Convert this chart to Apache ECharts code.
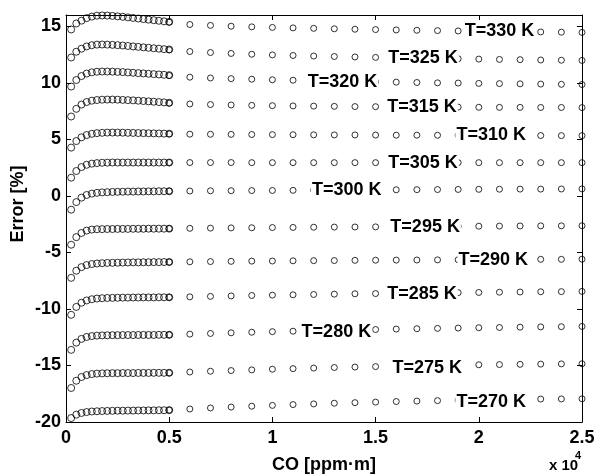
<!DOCTYPE html>
<html>
<head>
<meta charset="utf-8">
<script src="https://cdn.jsdelivr.net/npm/echarts@6/dist/echarts.min.js"></script>
<style>
  html, body { margin: 0; padding: 0; background: #fff; }
  #chart { width: 595px; height: 474px; }
</style>
</head>
<body>
<div id="chart"></div>
<script>
// CO column (ppm·m): fine sampling at low concentration, coarse sampling above
const denseCO = [250, 500, 750, 1000, 1250, 1500, 1750, 2000, 2250, 2500,
                 2750, 3000, 3250, 3500, 3750, 4000, 4250, 4500, 4750, 5000];
const sparseCO = [5000, 6000, 7000, 8000, 9000, 10000, 11000, 12000, 13000, 14000,
                  15000, 16000, 17000, 18000, 19000, 20000, 21000, 22000, 23000, 24000, 25000];

const temps = [330, 325, 320, 315, 310, 305, 300, 295, 290, 285, 280, 275, 270];

// Retrieval error [%] per temperature, fine-sampled range
const dense330 = [14.72, 15.25, 15.50, 15.72, 15.86, 15.94, 15.96, 15.95, 15.92, 15.88, 15.84, 15.79, 15.74, 15.69, 15.64, 15.59, 15.54, 15.49, 15.44, 15.40];
const dense325 = [12.24, 12.75, 13.02, 13.22, 13.33, 13.38, 13.39, 13.38, 13.36, 13.33, 13.30, 13.26, 13.22, 13.18, 13.14, 13.10, 13.06, 13.02, 12.98, 12.95];
const dense320 = [9.67, 10.25, 10.60, 10.82, 10.93, 10.98, 11.00, 11.00, 10.99, 10.97, 10.95, 10.92, 10.89, 10.86, 10.83, 10.80, 10.77, 10.74, 10.71, 10.68];
const dense315 = [7.02, 7.70, 8.08, 8.30, 8.42, 8.48, 8.51, 8.52, 8.52, 8.51, 8.49, 8.47, 8.45, 8.42, 8.39, 8.36, 8.33, 8.30, 8.27, 8.24];
const dense310 = [4.27, 4.85, 5.18, 5.38, 5.49, 5.55, 5.58, 5.60, 5.60, 5.60, 5.59, 5.58, 5.57, 5.56, 5.55, 5.54, 5.53, 5.52, 5.51, 5.50];
const dense305 = [1.61, 2.20, 2.55, 2.75, 2.85, 2.90, 2.93, 2.94, 2.95, 2.95, 2.95, 2.95, 2.95, 2.95, 2.95, 2.95, 2.95, 2.95, 2.95, 2.95];
const dense300 = [-1.22, -0.55, -0.15, 0.08, 0.20, 0.27, 0.31, 0.33, 0.35, 0.36, 0.37, 0.38, 0.38, 0.39, 0.39, 0.40, 0.40, 0.41, 0.41, 0.41];
const dense295 = [-4.32, -3.65, -3.28, -3.07, -2.98, -2.95, -2.94, -2.93, -2.93, -2.92, -2.92, -2.92, -2.91, -2.91, -2.91, -2.90, -2.90, -2.90, -2.90, -2.90];
const dense290 = [-7.25, -6.62, -6.30, -6.12, -6.03, -5.98, -5.95, -5.93, -5.92, -5.91, -5.90, -5.89, -5.88, -5.88, -5.87, -5.87, -5.86, -5.86, -5.85, -5.85];
const dense285 = [-10.52, -9.82, -9.45, -9.25, -9.14, -9.08, -9.05, -9.03, -9.02, -9.01, -9.00, -9.00, -8.99, -8.99, -8.98, -8.98, -8.98, -8.97, -8.97, -8.97];
const dense280 = [-13.62, -12.98, -12.65, -12.48, -12.40, -12.36, -12.34, -12.33, -12.32, -12.32, -12.31, -12.31, -12.31, -12.30, -12.30, -12.30, -12.30, -12.29, -12.29, -12.29];
const dense275 = [-16.99, -16.35, -16.02, -15.85, -15.76, -15.72, -15.70, -15.69, -15.68, -15.68, -15.67, -15.67, -15.67, -15.66, -15.66, -15.66, -15.65, -15.65, -15.65, -15.65];
const dense270 = [-19.65, -19.35, -19.20, -19.12, -19.07, -19.05, -19.03, -19.02, -19.01, -19.00, -19.00, -18.99, -18.99, -18.98, -18.98, -18.97, -18.97, -18.96, -18.96, -18.95];

// Retrieval error [%] per temperature, coarse-sampled range
const sparse330 = [15.36, 15.16, 15.08, 15.01, 14.95, 14.90, 14.86, 14.82, 14.78, 14.74, 14.71, 14.68, 14.65, 14.62, 14.59, 14.57, 14.54, 14.52, 14.50, 14.48, 14.46];
const sparse325 = [12.92, 12.77, 12.68, 12.60, 12.53, 12.47, 12.42, 12.37, 12.33, 12.29, 12.25, 12.22, 12.19, 12.16, 12.13, 12.10, 12.07, 12.05, 12.02, 12.00, 11.98];
const sparse320 = [10.65, 10.50, 10.43, 10.37, 10.32, 10.27, 10.23, 10.19, 10.15, 10.12, 10.09, 10.06, 10.03, 10.00, 9.98, 9.95, 9.93, 9.91, 9.89, 9.87, 9.85];
const sparse315 = [8.20, 8.13, 8.08, 8.04, 8.01, 7.98, 7.96, 7.94, 7.92, 7.90, 7.89, 7.88, 7.87, 7.86, 7.85, 7.84, 7.83, 7.83, 7.82, 7.82, 7.81];
const sparse310 = [5.48, 5.46, 5.45, 5.44, 5.43, 5.42, 5.41, 5.40, 5.39, 5.39, 5.38, 5.37, 5.37, 5.36, 5.36, 5.35, 5.35, 5.34, 5.34, 5.33, 5.33];
const sparse305 = [2.95, 2.95, 2.95, 2.95, 2.94, 2.94, 2.94, 2.94, 2.94, 2.94, 2.94, 2.94, 2.94, 2.94, 2.94, 2.94, 2.94, 2.94, 2.94, 2.94, 2.94];
const sparse300 = [0.42, 0.43, 0.45, 0.46, 0.47, 0.48, 0.49, 0.50, 0.51, 0.52, 0.53, 0.54, 0.55, 0.56, 0.57, 0.58, 0.59, 0.60, 0.60, 0.61, 0.62];
const sparse295 = [-2.89, -2.87, -2.85, -2.83, -2.82, -2.80, -2.79, -2.77, -2.76, -2.75, -2.74, -2.72, -2.71, -2.70, -2.69, -2.68, -2.67, -2.66, -2.65, -2.65, -2.64];
const sparse290 = [-5.85, -5.83, -5.81, -5.79, -5.77, -5.76, -5.74, -5.73, -5.72, -5.70, -5.69, -5.68, -5.67, -5.66, -5.65, -5.64, -5.63, -5.62, -5.61, -5.61, -5.60];
const sparse285 = [-8.97, -8.93, -8.89, -8.85, -8.81, -8.78, -8.75, -8.72, -8.69, -8.66, -8.64, -8.62, -8.60, -8.58, -8.56, -8.54, -8.52, -8.50, -8.48, -8.47, -8.45];
const sparse280 = [-12.29, -12.23, -12.17, -12.11, -12.06, -12.01, -11.97, -11.93, -11.89, -11.85, -11.82, -11.78, -11.75, -11.72, -11.69, -11.66, -11.64, -11.61, -11.59, -11.57, -11.55];
const sparse275 = [-15.65, -15.58, -15.51, -15.45, -15.39, -15.33, -15.28, -15.23, -15.18, -15.14, -15.10, -15.06, -15.03, -15.00, -14.97, -14.94, -14.92, -14.90, -14.88, -14.86, -14.85];
const sparse270 = [-18.95, -18.85, -18.76, -18.68, -18.60, -18.53, -18.46, -18.40, -18.34, -18.29, -18.24, -18.19, -18.15, -18.11, -18.07, -18.04, -18.01, -17.99, -17.97, -17.96, -17.95];

// In-plot curve labels: centre position in data units
const labelCO  = [21000, 17300, 13400, 17250, 20600, 17300, 13600, 17400, 20700, 17250, 13100, 17500, 20600];
const labelErr = [14.58, 12.22, 10.10, 7.86, 5.35, 2.94, 0.50, -2.77, -5.68, -8.70, -12.00, -15.20, -18.20];

const xTickLabels = ['0', '0.5', '1', '1.5', '2', '2.5'];

const denseSets  = [dense330, dense325, dense320, dense315, dense310, dense305, dense300, dense295, dense290, dense285, dense280, dense275, dense270];
const sparseSets = [sparse330, sparse325, sparse320, sparse315, sparse310, sparse305, sparse300, sparse295, sparse290, sparse285, sparse280, sparse275, sparse270];

const FONT = '"Liberation Sans", Arial, Helvetica, sans-serif';
const ring = { color: 'rgba(0,0,0,0)', borderColor: '#000', borderWidth: 1 };

const series = [];
temps.forEach((t, i) => {
  series.push({
    name: 'T=' + t + ' K',
    type: 'scatter',
    symbol: 'circle',
    symbolSize: 7,
    itemStyle: ring,
    data: denseCO.map((x, k) => [x, denseSets[i][k]]),
    silent: true
  });
  series.push({
    name: 'T=' + t + ' K',
    type: 'scatter',
    symbol: 'circle',
    symbolSize: 6,
    itemStyle: ring,
    data: sparseCO.map((x, k) => [x, sparseSets[i][k]]),
    silent: true
  });
});

// Curve captions on white boxes, placed on their curves
series.push({
  type: 'scatter',
  symbol: 'rect',
  symbolSize: 1,
  itemStyle: { color: 'rgba(255,255,255,0)', borderWidth: 0 },
  z: 10,
  silent: true,
  data: temps.map((t, i) => [labelCO[i], labelErr[i], 'T=' + t + ' K']),
  label: {
    show: true,
    position: 'inside',
    formatter: p => p.data[2],
    color: '#000',
    opacity: 1,
    textBorderWidth: 0,
    textBorderColor: 'transparent',
    fontFamily: FONT,
    fontWeight: 'bold',
    fontSize: 18,
    backgroundColor: '#fff',
    padding: [0, 1]
  }
});

const axisLine = { show: true, onZero: false, lineStyle: { color: '#000', width: 1 } };
const axisTick = { show: true, inside: true, length: 5, lineStyle: { color: '#000', width: 1 } };
const tickFont = { color: '#000', fontFamily: FONT, fontWeight: 'bold', fontSize: 18 };

const chart = echarts.init(document.getElementById('chart'), null, { renderer: 'canvas' });
chart.setOption({
  animation: false,
  backgroundColor: '#fff',
  grid: { left: 66, right: 13, top: 15, bottom: 52, containLabel: false, outerBoundsMode: 'none' },
  xAxis: [
    {
      type: 'value', position: 'bottom', min: 0, max: 25000, interval: 5000,
      axisLine, axisTick, splitLine: { show: false },
      axisLabel: Object.assign({ margin: 7, formatter: (v, idx) => xTickLabels[idx] }, tickFont),
      name: 'CO [ppm·m]', nameLocation: 'middle', nameGap: 34,
      nameTextStyle: { color: '#000', fontFamily: FONT, fontWeight: 'bold', fontSize: 18 }
    },
    {
      type: 'value', position: 'top', min: 0, max: 25000, interval: 5000,
      axisLine, axisTick, splitLine: { show: false }, axisLabel: { show: false }
    }
  ],
  yAxis: [
    {
      type: 'value', position: 'left', min: -20, max: 16, interval: 5,
      axisLine, axisTick, splitLine: { show: false },
      axisLabel: Object.assign({ margin: 5, showMaxLabel: false }, tickFont)
    },
    {
      type: 'value', position: 'right', min: -20, max: 16, interval: 5,
      axisLine, axisTick, splitLine: { show: false }, axisLabel: { show: false }
    }
  ],
  graphic: [
    {
      type: 'text', x: 18, y: 204, rotation: Math.PI / 2,
      style: { text: 'Error [%]', fill: '#000', font: 'bold 18px ' + FONT, textAlign: 'center', textVerticalAlign: 'middle' }
    },
    {
      type: 'text', x: 549, y: 466,
      style: { text: 'x 10', fill: '#000', font: 'bold 15px ' + FONT, textAlign: 'left', textVerticalAlign: 'middle' }
    },
    {
      type: 'text', x: 575, y: 456,
      style: { text: '4', fill: '#000', font: 'bold 11px ' + FONT, textAlign: 'left', textVerticalAlign: 'middle' }
    }
  ],
  series
});
</script>
</body>
</html>
